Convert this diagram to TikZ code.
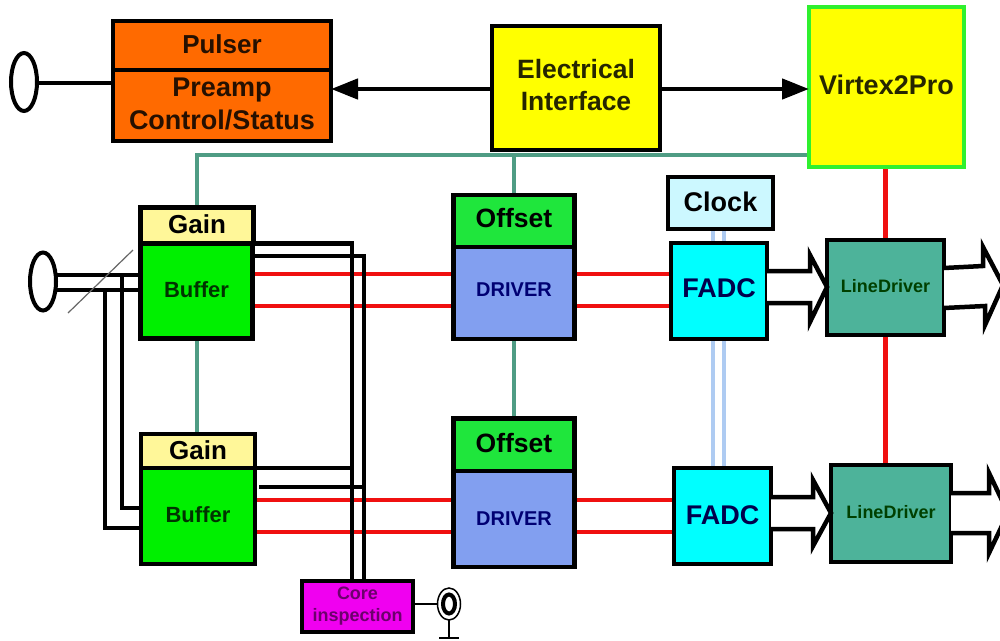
\documentclass[tikz,border=0pt]{standalone}
\usepackage{fontspec}
\setmainfont{Liberation Sans}
\usetikzlibrary{shapes.geometric,arrows.meta,backgrounds}
\definecolor{wgreen}{HTML}{4F9C84}
\definecolor{wred}{HTML}{F01010}
\definecolor{wblue}{HTML}{AECBF2}
\definecolor{orangebox}{HTML}{FF6A00}
\definecolor{yellowbox}{HTML}{FFFF00}
\definecolor{vborder}{HTML}{2FF02F}
\definecolor{gainbox}{HTML}{FFF799}
\definecolor{bufbox}{HTML}{00F000}
\definecolor{offbox}{HTML}{1FE63C}
\definecolor{drvbox}{HTML}{829FF0}
\definecolor{clkbox}{HTML}{CCF8FF}
\definecolor{fadcbox}{HTML}{00FFFF}
\definecolor{ldbox}{HTML}{4DB39A}
\definecolor{corebox}{HTML}{F000F0}
\tikzset{
  box/.style={draw=black,line width=4.5pt,inner sep=0pt,outer sep=0pt,align=center,font=\bfseries},
  sz/.style={font=\fontsize{#1}{#1}\selectfont\bfseries},
  lift/.style={text depth=#1},
  oval/.style={draw=black,line width=4pt,fill=white,ellipse,inner sep=0pt,outer sep=0pt},
  blk/.style={draw=black,line width=4.5pt},
  redw/.style={draw=wred,line width=4.5pt},
  grnw/.style={draw=wgreen,line width=4pt},
  bluew/.style={draw=wblue,line width=4.5pt},
  hollow/.style={draw=black,line width=4.5pt,line join=miter,fill=white},
}
\begin{document}
\begin{tikzpicture}[x=1pt,y=-1pt]
\useasboundingbox (0,0) rectangle (1000,640);
% top row
\node[box,fill=orangebox,minimum width=218pt,minimum height=49pt,text=black!85!orangebox,sz=26,lift=3pt] (pulser) at (222,45.5) {Pulser};
\node[box,fill=orangebox,minimum width=218pt,minimum height=71pt,text=black!85!orangebox,font=\fontsize{27}{33}\selectfont\bfseries,lift=4pt] (preamp) at (222,105.5) {Preamp\\Control/Status};
\node[box,fill=yellowbox,minimum width=168pt,minimum height=124pt,text=black!85!yellowbox,font=\fontsize{26.5}{32}\selectfont\bfseries,lift=7pt] (elec) at (576,88) {Electrical\\Interface};
\node[box,draw=vborder,fill=yellowbox,minimum width=155pt,minimum height=160pt,text=black!85!yellowbox,sz=27,lift=4pt] (virtex) at (886.5,87) {Virtex2Pro};
\node[oval,minimum width=26pt,minimum height=58pt] (ovaltop) at (24,82) {};
% row 1
\node[box,fill=gainbox,minimum width=113pt,minimum height=36pt,sz=26,lift=3pt] (gain1) at (197,225.5) {Gain};
\node[box,fill=bufbox,minimum width=112pt,minimum height=95pt,text=green!20!black,sz=22,lift=2pt] (buf1) at (196.5,291) {Buffer};
\node[box,fill=offbox,minimum width=121pt,minimum height=52pt,sz=26.5,lift=6pt] (off1) at (514,221) {Offset};
\node[box,fill=drvbox,minimum width=121pt,minimum height=92pt,text=blue!45!black,sz=20,lift=6pt] (drv1) at (514,293) {DRIVER};
\node[box,fill=clkbox,minimum width=105pt,minimum height=52pt,sz=27,lift=2pt] (clock) at (720.5,203) {Clock};
\node[box,fill=fadcbox,minimum width=96pt,minimum height=96pt,text=blue!30!black,sz=27,lift=6pt] (fadc1) at (719,291) {FADC};
\node[box,fill=ldbox,minimum width=117pt,minimum height=95pt,text=green!25!black,sz=18,lift=3pt] (ld1) at (885.5,287.5) {LineDriver};
\node[oval,minimum width=26pt,minimum height=58pt] (ovalin) at (43,281.5) {};
% row 2
\node[box,fill=gainbox,minimum width=114pt,minimum height=34pt,sz=26,lift=2pt] (gain2) at (198,451) {Gain};
\node[box,fill=bufbox,minimum width=114pt,minimum height=96pt,text=green!20!black,sz=22,lift=2pt] (buf2) at (198,516) {Buffer};
\node[box,fill=offbox,minimum width=121pt,minimum height=53pt,sz=26.5,lift=4pt] (off2) at (514,445) {Offset};
\node[box,fill=drvbox,minimum width=121pt,minimum height=96pt,text=blue!45!black,sz=20] (drv2) at (514,519) {DRIVER};
\node[box,fill=fadcbox,minimum width=97pt,minimum height=96pt,text=blue!30!black,sz=27,lift=2pt] (fadc2) at (722.5,516) {FADC};
\node[box,fill=ldbox,minimum width=120pt,minimum height=97pt,text=green!25!black,sz=18,lift=4pt] (ld2) at (891,513.5) {LineDriver};
\node[box,fill=corebox,minimum width=111pt,minimum height=51pt,text=violet!85!black,font=\fontsize{18}{22}\selectfont\bfseries] (core) at (357.5,606.5) {Core\\inspection};
\node[draw=black,line width=1.5pt,fill=white,ellipse,inner sep=0pt,outer sep=0pt,minimum width=23pt,minimum height=32pt] (jackout) at (449,604) {};
\node[oval,minimum width=12pt,minimum height=19pt] (jackin) at (449,604) {};
% named levels and free ends
\coordinate (ya) at (0,275);
\coordinate (yb) at (0,290);
\coordinate (yr1) at (0,274);
\coordinate (yr2) at (0,306);
\coordinate (ys1) at (0,500);
\coordinate (ys2) at (0,532);
\coordinate (xv1) at (122,0);
\coordinate (xv2) at (105,0);
\coordinate (yg) at (0,155);
\coordinate (xc1) at (352,0);
\coordinate (xc2) at (364,0);
\coordinate (slashA) at (68,313);
\coordinate (slashB) at (133,250);
\coordinate (gndL) at (439,638);
\coordinate (gndR) at (459,638);
\coordinate (gndM) at (449,638);
\begin{scope}[on background layer]
% clock pair
\draw[bluew] (713,229) -- (713,468);
\draw[bluew] (724,229) -- (724,468);
% red pairs
\draw[redw] (buf1.east |- yr1) -- (drv1.west |- yr1);
\draw[redw] (buf1.east |- yr2) -- (drv1.west |- yr2);
\draw[redw] (drv1.east |- yr1) -- (fadc1.west |- yr1);
\draw[redw] (drv1.east |- yr2) -- (fadc1.west |- yr2);
\draw[redw] (buf2.east |- ys1) -- (drv2.west |- ys1);
\draw[redw] (buf2.east |- ys2) -- (drv2.west |- ys2);
\draw[redw] (drv2.east |- ys1) -- (fadc2.west |- ys1);
\draw[redw] (drv2.east |- ys2) -- (fadc2.west |- ys2);
\draw[redw] (ld1.north |- virtex.south) -- (ld1.north);
\draw[redw] (ld1.south) -- (ld1.south |- ld2.north);
% green control
\draw[grnw] (virtex.west |- yg) -- (gain1.north |- yg) -- (gain1.north);
\draw[grnw] (off1.north |- yg) -- (off1.north);
\draw[grnw] (buf1.south) -- (buf1.south |- gain2.north);
\draw[grnw] (drv1.south) -- (off2.north);
% black wiring
\draw[blk,line join=miter] (gain1.south east) -- (xc1 |- gain1.south) -- (xc1 |- core.north);
\draw[blk,line join=miter] (buf1.east |- 0,256) -- (xc2 |- 0,256) -- (xc2 |- core.north);
\draw[blk,line width=4pt] (buf2.north east) -- (xc1 |- buf2.north);
\draw[blk] (259,487) -- (xc2 |- 0,487);
\draw[blk] (ovalin.east |- ya) -- (buf1.west |- ya);
\draw[blk] (ovalin.east |- yb) -- (buf1.west |- yb);
\draw[blk,line join=miter] (xv1 |- ya) -- (xv1 |- 0,508) -- (buf2.west |- 0,508);
\draw[blk,line join=miter] (xv2 |- yb) -- (xv2 |- 0,528) -- (buf2.west |- 0,528);
\draw[blk,line width=3.5pt] (ovaltop.east |- 0,83) -- (preamp.west |- 0,83);
\draw[line width=1.5pt] (core.east |- jackout) -- (jackout.west);
\draw[line width=2pt] (jackout.south) -- (gndM);
\draw[line width=2pt] (gndL) -- (gndR);
\end{scope}
\draw[draw=black!60,line width=1.2pt] (slashA) -- (slashB);
% control arrows
\draw[blk,-{Triangle[width=20pt,length=27pt]}] (elec.west |- 0,89) -- (preamp.east |- 0,89);
\draw[blk,-{Triangle[width=20pt,length=27pt]}] (elec.east |- 0,89) -- (virtex.west |- 0,89);
% hollow buses
\draw[hollow] (fadc1.east |- 0,271) -- (810,271) -- (810,255) -- (ld1.west |- 0,287) -- (810,322) -- (810,303) -- (fadc1.east |- 0,303);
\draw[hollow] (fadc2.east |- 0,497) -- (813,497) -- (813,480) -- (ld2.west |- 0,513) -- (813,546) -- (813,529) -- (fadc2.east |- 0,529);
\draw[hollow] (ld1.east |- 0,268) -- (983,266) -- (983,247) -- (1003,285) -- (985,325) -- (985,306) -- (ld1.east |- 0,308);
\draw[hollow] (ld2.east |- 0,493) -- (989,493) -- (989,473) -- (1008,513) -- (989,553) -- (989,533) -- (ld2.east |- 0,533);
\end{tikzpicture}
\end{document}
